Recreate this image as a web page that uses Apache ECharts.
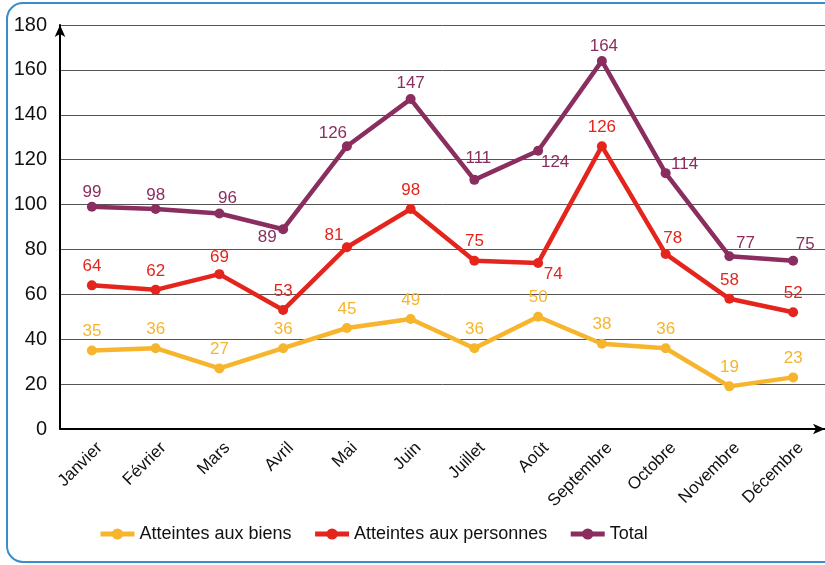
<!DOCTYPE html>
<html><head><meta charset="utf-8">
<script src="https://cdn.jsdelivr.net/npm/echarts@6/dist/echarts.min.js"></script>
<style>html,body{margin:0;padding:0;background:#fff}#c{width:825px;height:565px}</style>
</head><body><div id="c"></div>
<script>
const months = ['Janvier','Février','Mars','Avril','Mai','Juin','Juillet','Août','Septembre','Octobre','Novembre','Décembre'];
const seriesNames = ['Atteintes aux biens','Atteintes aux personnes','Total'];
const biens = [35,36,27,36,45,49,36,50,38,36,19,23];
const personnes = [64,62,69,53,81,98,75,74,126,78,58,52];
const total = [99,98,96,89,126,147,111,124,164,114,77,75];
const yMin = 0, yMax = 180, yStep = 20;

const FONT = "'Liberation Sans','Arial',sans-serif";
const colors = ['#F6B52D', '#E4251D', '#8A2D5F'];

// label offsets relative to the point (style, not data)
const defOff = [0, -19];
const offsets = [
  {},
  {2:[0,-17], 4:[-13,-12], 7:[15,11], 9:[7,-16]},
  {0:[0,-14], 1:[0,-14], 2:[8,-15], 3:[-16,8], 4:[-14,-13], 5:[0,-16], 6:[4,-22], 7:[17,12], 8:[2,-15], 9:[19,-9], 10:[16,-13], 11:[12,-16]}
];

function build(vals, si) {
  return vals.map((v, i) => ({
    value: v,
    label: { offset: offsets[si][i] || defOff }
  }));
}

const chart = echarts.init(document.getElementById('c'), null, {renderer: 'canvas'});
const mk = (vals, si) => ({
  name: seriesNames[si],
  type: 'line',
  data: build(vals, si),
  symbol: 'circle',
  symbolSize: 10,
  color: colors[si],
  lineStyle: { width: 4.5, color: colors[si] },
  itemStyle: { color: colors[si] },
  label: { show: true, position: 'inside', color: colors[si], fontSize: 17, fontFamily: FONT },
  z: 3 + si
});

chart.setOption({
  animation: false,
  textStyle: { fontFamily: FONT },
  graphic: [{
    type: 'rect', z: -1,
    shape: { x: 7, y: 3, width: 850, height: 559, r: 16 },
    style: { fill: 'none', stroke: '#3A8DC9', lineWidth: 2 }
  }],
  grid: { left: 60, right: -2, top: 25, bottom: 136, containLabel: false },
  legend: {
    left: 93, top: 520,
    itemWidth: 34, itemHeight: 14, itemGap: 21,
    lineStyle: { width: 5 },
    textStyle: { fontSize: 18, color: '#111', fontFamily: FONT },
    data: seriesNames
  },
  xAxis: {
    type: 'category', data: months, boundaryGap: true,
    axisLine: { lineStyle: { color: '#000', width: 2 }, symbol: ['none', 'arrow'], symbolSize: [8, 12] },
    axisTick: { show: false },
    axisLabel: { rotate: 45, margin: 24, padding: [0, -11, 0, 0], fontSize: 17, color: '#111', fontFamily: FONT, interval: 0 }
  },
  yAxis: {
    type: 'value', min: yMin, max: yMax, interval: yStep,
    axisLine: { show: true, lineStyle: { color: '#000', width: 2 }, symbol: ['none', 'arrow'], symbolSize: [8, 12] },
    axisTick: { show: false },
    axisLabel: { fontSize: 20, color: '#111', margin: 13, fontFamily: FONT },
    splitLine: { lineStyle: { color: '#555', width: 1 } }
  },
  series: [mk(biens, 0), mk(personnes, 1), mk(total, 2)]
});
</script></body></html>
